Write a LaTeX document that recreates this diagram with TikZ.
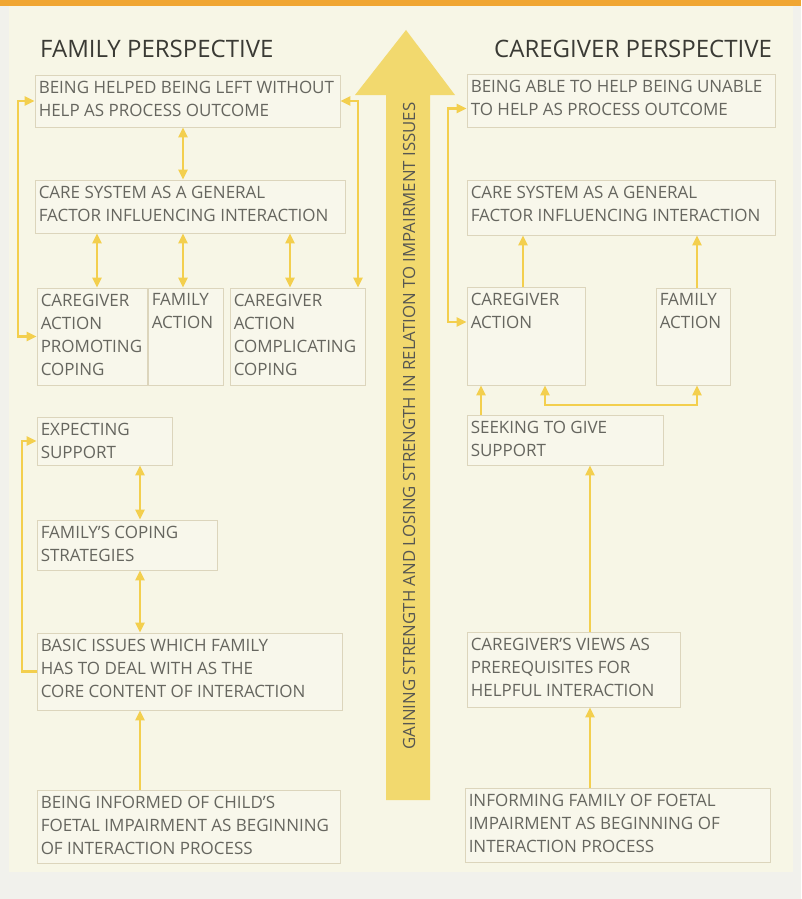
\documentclass[tikz,border=0pt]{standalone}
\usepackage{fontspec}
\setmainfont{Open Sans}
\usetikzlibrary{arrows.meta,fit,calc}
\definecolor{pagebg}{HTML}{F1F1EC}
\definecolor{panelbg}{HTML}{F7F6E6}
\definecolor{boxbg}{HTML}{F8F7EB}
\definecolor{boxline}{HTML}{DCD5BC}
\definecolor{txtc}{HTML}{66665F}
\definecolor{titlec}{HTML}{3A3A34}
\definecolor{conc}{HTML}{F3CF4E}
\definecolor{bigc}{HTML}{F2D96E}
\definecolor{orangec}{HTML}{F0A632}
\tikzset{
  boxsty/.style={draw=boxline, fill=boxbg, line width=0.9pt, inner sep=0pt, rectangle},
  txtsty/.style={font=\fontsize{17}{23}\selectfont, align=left, inner sep=0pt, text=txtc},
  titlesty/.style={font=\fontsize{24}{26}\selectfont, text=titlec, inner sep=0pt, anchor=west},
  con/.style={draw=conc, line width=2.4pt, arrows={-}},
  >={Triangle[width=9pt,length=10pt]}
}
\newcommand\mkbox[6]{%
  \node[boxsty, fit={(#2,#3) (#4,#5)}] (#1) {};
  \node[txtsty, anchor=north west] (#1t) at ([xshift=4pt,yshift=-6pt]#1.north west) {#6};}
\begin{document}
\begin{tikzpicture}[x=1pt,y=-1pt]
\useasboundingbox (0,0) rectangle (801,899);
\fill[pagebg] (0,0) rectangle (801,899);
\fill[panelbg] (9,6) rectangle (793,872);
\fill[orangec] (0,0) rectangle (801,6);
% big arrow
\fill[bigc] (386,800) -- (386,95) -- (355,95) -- (406,30) -- (455,95) -- (430,95) -- (430,800) -- cycle;
\node[rotate=90, font=\fontsize{16.8}{18}\selectfont, text=titlec!85, inner sep=0pt] (arrowtxt) at (409,426)
  {GAINING STRENGTH AND LOSING STRENGTH IN RELATION TO IMPAIRMENT ISSUES};
% titles
\node[titlesty] (tfam) at (40,49) {FAMILY PERSPECTIVE};
\node[titlesty] (tcare) at (494,49) {CAREGIVER PERSPECTIVE};
% left boxes
\mkbox{b1}{35}{75}{340}{127}{BEING HELPED BEING LEFT WITHOUT\\HELP AS PROCESS OUTCOME}
\mkbox{b2}{35}{180}{345}{233}{CARE SYSTEM AS A GENERAL\\FACTOR INFLUENCING INTERACTION}
\mkbox{b3a}{37}{288}{147}{385}{CAREGIVER\\ACTION\\PROMOTING\\COPING}
\mkbox{b3b}{148}{288}{223}{385}{FAMILY\\ACTION}
\mkbox{b3c}{230}{288}{365}{385}{CAREGIVER\\ACTION\\COMPLICATING\\COPING}
\mkbox{b4}{37}{417}{172}{465}{EXPECTING\\SUPPORT}
\mkbox{b5}{37}{520}{217}{570}{FAMILY'S COPING\\STRATEGIES}
\mkbox{b6}{37}{633}{342}{710}{BASIC ISSUES WHICH FAMILY\\HAS TO DEAL WITH AS THE\\CORE CONTENT OF INTERACTION}
\mkbox{b7}{37}{790}{340}{863}{BEING INFORMED OF CHILD'S\\FOETAL IMPAIRMENT AS BEGINNING\\OF INTERACTION PROCESS}
% right boxes
\mkbox{r1}{467}{74}{775}{127}{BEING ABLE TO HELP BEING UNABLE\\TO HELP AS PROCESS OUTCOME}
\mkbox{r2}{467}{180}{775}{235}{CARE SYSTEM AS A GENERAL\\FACTOR INFLUENCING INTERACTION}
\mkbox{r3a}{467}{287}{585}{385}{CAREGIVER\\ACTION}
\mkbox{r3b}{656}{288}{730}{385}{FAMILY\\ACTION}
\mkbox{r4}{467}{415}{663}{465}{SEEKING TO GIVE\\SUPPORT}
\mkbox{r5}{467}{632}{680}{707}{CAREGIVER'S VIEWS AS\\PREREQUISITES FOR\\HELPFUL INTERACTION}
\mkbox{r6}{465}{788}{770}{862}{INFORMING FAMILY OF FOETAL\\IMPAIRMENT AS BEGINNING OF\\INTERACTION PROCESS}
% column coordinates
\coordinate (cx0) at (18,0);
\coordinate (cxl) at (22,0);
\coordinate (cx1) at (97,0);
\coordinate (cx2) at (183,0);
\coordinate (cx3) at (290,0);
\coordinate (cx4) at (358,0);
\coordinate (cx5) at (140,0);
\coordinate (cr0) at (448,0);
\coordinate (cr1) at (523,0);
\coordinate (cr2) at (697,0);
\coordinate (cr3) at (481,0);
\coordinate (cr4) at (545,0);
\coordinate (cr5) at (590,0);
\coordinate (yh) at (0,405);
% left connectors
\draw[con,<->] (b1.south -| cx2) -- (b2.north -| cx2);
\draw[con,<->] (b2.south -| cx1) -- (b3a.north -| cx1);
\draw[con,<->] (b2.south -| cx2) -- (b3b.north -| cx2);
\draw[con,<->] (b2.south -| cx3) -- (b3c.north -| cx3);
\draw[con,<->] (b1.east) -- (b1.east -| cx4) -- (b3c.north -| cx4);
\draw[con,<->] (b1.west) -- (b1.west -| cx0) -- (b3a.west -| cx0) -- (b3a.west);
\draw[con,<->] (b4.south -| cx5) -- (b5.north -| cx5);
\draw[con,<->] (b5.south -| cx5) -- (b6.north -| cx5);
\draw[con,->] (b6.west) -- (b6.west -| cxl) -- (b4.west -| cxl) -- (b4.west);
\draw[con,->] (b7.north -| cx5) -- (b6.south -| cx5);
% right connectors
\draw[con,<->] ([yshift=-8pt]r1.west) -- ([yshift=-8pt]r1.west -| cr0) -- ([yshift=14pt]r3a.west -| cr0) -- ([yshift=14pt]r3a.west);
\draw[con,->] (r3a.north -| cr1) -- (r2.south -| cr1);
\draw[con,->] (r3b.north -| cr2) -- (r2.south -| cr2);
\draw[con,->] (r4.north -| cr3) -- (r3a.south -| cr3);
\draw[con,<->] (r3a.south -| cr4) -- (cr4 |- yh) -- (cr2 |- yh) -- (r3b.south -| cr2);
\draw[con,->] (r5.north -| cr5) -- (r4.south -| cr5);
\draw[con,->] (r6.north -| cr5) -- (r5.south -| cr5);
\end{tikzpicture}
\end{document}
